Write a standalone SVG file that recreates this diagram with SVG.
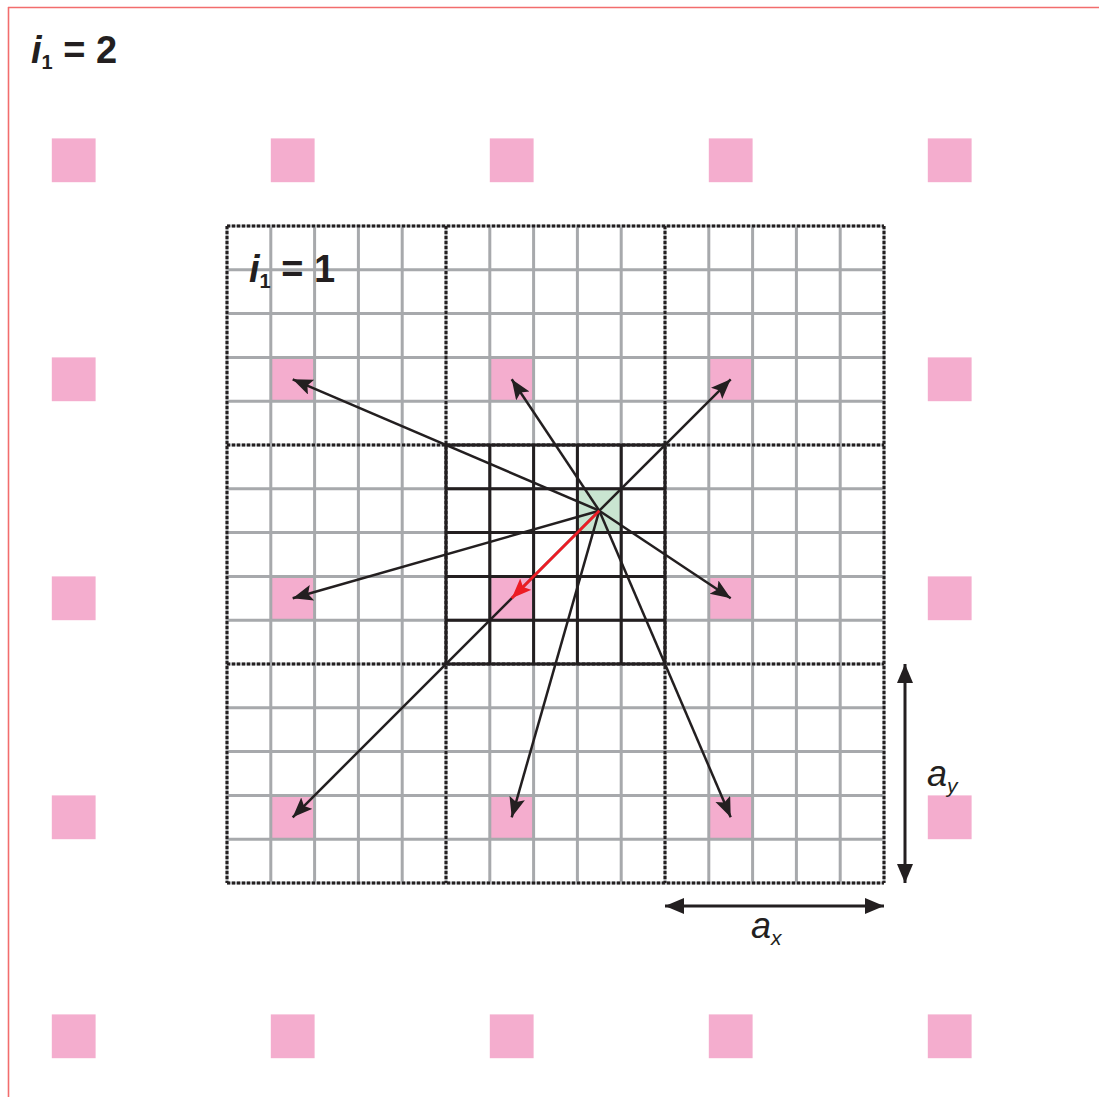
<svg xmlns="http://www.w3.org/2000/svg" width="1099" height="1097" viewBox="0 0 1099 1097">
<style>
.pink{fill:#f4adce}
.gg{stroke:#a7a9ac;stroke-width:3;fill:none}
.dot{stroke:#231f20;stroke-width:3;stroke-dasharray:3 2;fill:none}
.bk{stroke:#231f20;stroke-width:3;fill:none}
.arr{stroke:#231f20;stroke-width:2.5;fill:none;marker-end:url(#ah)}
.red{stroke:#ed1c24;stroke-width:2.7;fill:none;marker-end:url(#ahr)}
.dim{stroke:#231f20;stroke-width:3;fill:none;marker-start:url(#ahd);marker-end:url(#ahd)}
.lbl{font-family:"Liberation Sans",Arial,sans-serif;fill:#231f20}
</style>
<defs>
<marker id="ah" markerUnits="userSpaceOnUse" markerWidth="24" markerHeight="18" refX="20" refY="8" orient="auto"><path d="M0,0 L20,8 L0,16 L4,8 Z" fill="#231f20"/></marker>
<marker id="ahr" markerUnits="userSpaceOnUse" markerWidth="24" markerHeight="18" refX="20" refY="8" orient="auto"><path d="M0,0 L20,8 L0,16 L4,8 Z" fill="#ed1c24"/></marker>
<marker id="ahd" markerUnits="userSpaceOnUse" markerWidth="24" markerHeight="18" refX="19" refY="8" orient="auto-start-reverse"><path d="M0,0 L19,8 L0,16 Z" fill="#231f20"/></marker>
</defs>
<rect width="1099" height="1097" fill="#fff"/>
<g id="frame">
<path d="M8,7.5 H1099 M8.5,7 V1097" stroke="#f26d6d" stroke-width="1.6" fill="none"/>
</g>
<g id="pink-lattice">
<rect class="pink" x="51.8" y="138.4" width="43.8" height="43.8"/>
<rect class="pink" x="270.8" y="138.4" width="43.8" height="43.8"/>
<rect class="pink" x="489.8" y="138.4" width="43.8" height="43.8"/>
<rect class="pink" x="708.8" y="138.4" width="43.8" height="43.8"/>
<rect class="pink" x="927.8" y="138.4" width="43.8" height="43.8"/>
<rect class="pink" x="51.8" y="357.4" width="43.8" height="43.8"/>
<rect class="pink" x="270.8" y="357.4" width="43.8" height="43.8"/>
<rect class="pink" x="489.8" y="357.4" width="43.8" height="43.8"/>
<rect class="pink" x="708.8" y="357.4" width="43.8" height="43.8"/>
<rect class="pink" x="927.8" y="357.4" width="43.8" height="43.8"/>
<rect class="pink" x="51.8" y="576.4" width="43.8" height="43.8"/>
<rect class="pink" x="270.8" y="576.4" width="43.8" height="43.8"/>
<rect class="pink" x="489.8" y="576.4" width="43.8" height="43.8"/>
<rect class="pink" x="708.8" y="576.4" width="43.8" height="43.8"/>
<rect class="pink" x="927.8" y="576.4" width="43.8" height="43.8"/>
<rect class="pink" x="51.8" y="795.4" width="43.8" height="43.8"/>
<rect class="pink" x="270.8" y="795.4" width="43.8" height="43.8"/>
<rect class="pink" x="489.8" y="795.4" width="43.8" height="43.8"/>
<rect class="pink" x="708.8" y="795.4" width="43.8" height="43.8"/>
<rect class="pink" x="927.8" y="795.4" width="43.8" height="43.8"/>
<rect class="pink" x="51.8" y="1014.4" width="43.8" height="43.8"/>
<rect class="pink" x="270.8" y="1014.4" width="43.8" height="43.8"/>
<rect class="pink" x="489.8" y="1014.4" width="43.8" height="43.8"/>
<rect class="pink" x="708.8" y="1014.4" width="43.8" height="43.8"/>
<rect class="pink" x="927.8" y="1014.4" width="43.8" height="43.8"/>
</g>
<g id="green-cell">
<rect x="577.4" y="488.8" width="43.8" height="43.8" fill="#c9e5d1"/>
</g>
<g id="gray-grid">
<path class="gg" d="M270.8,226 V883 M314.6,226 V883 M358.4,226 V883 M402.2,226 V883 M489.8,226 V883 M533.6,226 V883 M577.4,226 V883 M621.2,226 V883 M708.8,226 V883 M752.6,226 V883 M796.4,226 V883 M840.2,226 V883"/>
<path class="gg" d="M227,269.8 H884 M227,313.6 H884 M227,357.4 H884 M227,401.2 H884 M227,488.8 H884 M227,532.6 H884 M227,576.4 H884 M227,620.2 H884 M227,707.8 H884 M227,751.6 H884 M227,795.4 H884 M227,839.2 H884"/>
<path class="gg" d="M227,226 V883 M446,226 V883 M665,226 V883 M884,226 V883 M227,226 H884 M227,445 H884 M227,664 H884 M227,883 H884"/>
<path class="dot" d="M227,226 V883 M446,226 V883 M665,226 V883 M884,226 V883 M227,226 H884 M227,445 H884 M227,664 H884 M227,883 H884"/>
</g>
<g id="black-grid">
<path class="bk" d="M446,445 V664 M489.8,445 V664 M533.6,445 V664 M577.4,445 V664 M621.2,445 V664 M665,445 V664 M446,445 H665 M446,488.8 H665 M446,532.6 H665 M446,576.4 H665 M446,620.2 H665 M446,664 H665"/>
</g>
<g id="connectors">
<line class="arr" x1="599.3" y1="510.7" x2="292.7" y2="379.3"/>
<line class="arr" x1="599.3" y1="510.7" x2="511.7" y2="379.3"/>
<line class="arr" x1="599.3" y1="510.7" x2="730.7" y2="379.3"/>
<line class="arr" x1="599.3" y1="510.7" x2="292.7" y2="598.3"/>
<line class="arr" x1="599.3" y1="510.7" x2="730.7" y2="598.3"/>
<line class="arr" x1="599.3" y1="510.7" x2="292.7" y2="817.3"/>
<line class="arr" x1="599.3" y1="510.7" x2="511.7" y2="817.3"/>
<line class="arr" x1="599.3" y1="510.7" x2="730.7" y2="817.3"/>
<line class="red" x1="599.3" y1="510.7" x2="511.7" y2="598.3"/>
<line class="dim" x1="905" y1="664" x2="905" y2="883"/>
<line class="dim" x1="665" y1="906" x2="884" y2="906"/>
</g>
<g id="labels">
<text class="lbl" x="31" y="63" font-size="38" font-weight="bold"><tspan font-style="italic">i</tspan><tspan font-size="20" dy="6">1</tspan><tspan dy="-6"> = 2</tspan></text>
<text class="lbl" x="249" y="282" font-size="38" font-weight="bold"><tspan font-style="italic">i</tspan><tspan font-size="20" dy="6">1</tspan><tspan dy="-6"> = 1</tspan></text>
<text class="lbl" x="927" y="786" font-size="36" font-style="italic">a<tspan font-size="21" dy="7">y</tspan></text>
<text class="lbl" x="751" y="938" font-size="36" font-style="italic">a<tspan font-size="21" dy="7">x</tspan></text>
</g>
</svg>
